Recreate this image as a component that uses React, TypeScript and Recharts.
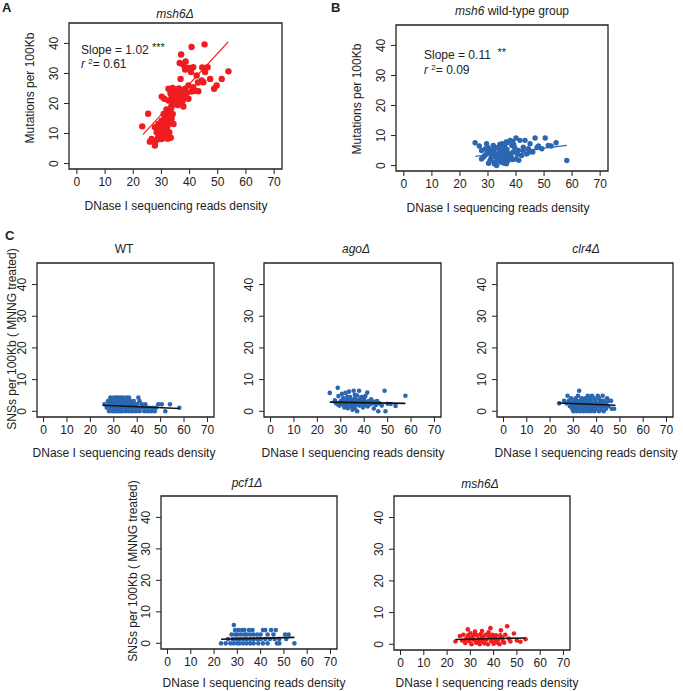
import React from 'react';
import { ScatterChart, Scatter, XAxis, YAxis, ReferenceArea } from 'recharts';

const FONT = '"Liberation Sans", Arial, Helvetica, sans-serif';
const RED = '#f01c1f';
const BLUE = '#2b67b1';
const INK = '#222';

const xTicks = [0, 10, 20, 30, 40, 50, 60, 70];
const yTicks = [0, 10, 20, 30, 40];
const xDomain = [-2.8, 72.8];
const yDomain = [-1.8, 46.8];

// panel A: msh6 delta, mutations per 100Kb
const msh6Points = [
  [23.2, 12.4], [25.3, 16.6], [25.9, 7.3], [26.5, 8.2], [27.7, 7.1], [27.7, 6.0], [27.7, 12.1], [28.3, 10.4],
  [28.9, 13.2], [28.9, 8.8], [29.5, 11.6], [29.8, 9.6], [30.1, 14.3], [30.1, 8.2], [30.1, 22.3], [30.7, 8.8],
  [31.0, 12.9], [31.0, 21.6], [31.3, 15.4], [31.3, 11.0], [31.8, 18.0], [32.5, 17.1], [32.5, 13.2], [32.5, 21.0],
  [32.5, 24.9], [32.8, 10.4], [33.1, 16.0], [33.3, 8.6], [33.6, 14.9], [33.6, 19.3], [33.6, 22.7], [34.3, 13.2],
  [34.3, 21.0], [34.8, 22.7], [35.4, 23.8], [36.0, 22.1], [36.0, 20.4], [36.6, 21.0], [36.6, 23.8], [36.8, 28.2],
  [37.0, 36.3], [37.2, 23.3], [37.8, 32.9], [38.4, 31.3], [38.4, 24.9], [38.6, 34.0], [39.6, 26.0], [39.6, 21.6],
  [40.2, 31.2], [40.7, 38.8], [40.7, 24.0], [41.3, 32.1], [41.3, 25.4], [42.5, 29.3], [43.1, 24.1], [44.3, 27.7],
  [44.9, 27.1], [45.3, 39.7], [46.4, 32.1], [47.3, 28.2], [48.7, 24.9], [49.6, 26.0], [51.4, 28.2], [53.8, 30.7],
  [33.5, 18.5], [34.8, 19.8], [35.2, 20.5], [35.8, 19.5], [34.0, 16.5], [33.0, 15.5], [31.8, 14.0], [30.5, 12.0],
  [29.2, 10.2], [28.5, 8.0], [30.8, 16.5], [31.8, 10.2], [32.0, 12.0], [29.8, 13.5], [35.0, 24.5], [36.2, 25.0],
  [37.5, 20.8], [38.0, 22.0], [39.0, 23.5], [36.5, 33.5], [38.0, 33.0], [39.8, 31.8], [42.0, 24.2], [45.5, 30.5],
  [44.5, 32.0], [43.0, 27.0], [40.5, 30.5], [34.0, 25.2], [33.2, 23.5], [37.8, 19.0], [35.5, 21.8], [32.2, 8.3],
];
const msh6Fit = [[23.5, 9.7], [53.7, 40.5]];

// panel B: msh6 wild-type group
const wtGroupPoints = [
  [25.4, 7.6], [26.9, 6.5], [27.7, 5.0], [58.1, 1.7], [50.4, 9.2], [46.8, 9.2], [54.3, 7.6], [51.5, 6.7],
  [48.0, 6.5], [45.0, 7.3], [43.2, 8.4], [41.4, 8.4], [40.0, 9.2], [37.9, 8.4], [36.5, 7.9], [35.0, 7.3],
  [38.5, 6.7], [42.6, 6.1], [44.4, 5.6], [49.2, 5.6], [40.8, 5.0], [29.5, 7.3], [31.9, 6.7], [33.3, 5.8],
  [30.7, 5.3], [35.5, 5.6], [29.5, 3.9], [31.9, 3.9], [34.2, 3.9], [36.6, 3.9], [39.0, 4.5], [42.0, 3.4],
  [28.3, 2.8], [31.2, 2.8], [33.5, 2.2], [35.9, 2.2], [37.6, 2.8], [32.4, 1.1], [34.7, 1.1], [33.1, 0.0],
  [36.6, 0.6], [30.7, 1.7], [27.7, 2.2], [39.9, 2.2], [43.8, 3.9], [29.0, 5.5], [30.0, 6.0], [30.5, 4.5],
  [31.0, 5.0], [31.5, 3.2], [32.0, 4.6], [32.5, 6.0], [32.8, 3.5], [33.0, 2.6], [33.8, 4.2], [34.0, 6.4],
  [34.5, 3.0], [34.8, 5.0], [35.2, 1.5], [35.5, 4.4], [35.8, 0.8], [36.2, 3.3], [36.8, 5.4], [37.2, 1.7],
  [37.5, 4.0], [38.2, 3.2], [38.8, 2.0], [39.5, 6.0], [40.5, 3.8], [41.0, 1.8], [42.5, 5.0], [30.2, 0.8],
  [31.0, 2.0], [29.8, 4.8], [28.8, 3.3], [32.2, 0.6], [33.6, 1.5], [34.2, 7.0], [36.0, 6.8], [37.0, 7.7],
  [38.8, 8.0], [39.2, 7.0], [44.8, 4.5], [46.0, 4.5], [47.5, 6.0], [52.5, 6.5],
];
const wtGroupFit = [[25.5, 3.1], [58.1, 6.7]];

// panel C: SNSs per 100Kb, MNNG treated (x values listed per level)
const wtRows: [number, number[]][] = [
  [4.3, [28.5, 30, 31, 32, 33, 34, 35.5, 36.5, 40.5]],
  [3.2, [27.5, 29, 30, 31.5, 32.5, 33.5, 34.5, 36, 37, 38.5, 41]],
  [2.2, [26, 28, 29.5, 30.5, 31.5, 33, 34, 35, 36.5, 38, 39, 40, 42, 43.5, 49, 50.5, 54]],
  [1.1, [27, 28.5, 29.5, 30.5, 31.5, 32.5, 33.5, 35, 36, 37.5, 39, 40.5, 42, 43.5, 45, 46.5, 48, 58]],
  [0, [28, 29.5, 30.5, 31.5, 32.5, 33.5, 35, 36.5, 38, 39.5, 41, 43, 44.5, 46, 47.5, 52]],
];
const wtFit = [[25.3, 1.9], [58, 0.9]];

const agoPoints = [
  [25.3, 5.8], [28.7, 7.4], [27.5, 3.5], [28, 2.5], [29, 4.8], [29.5, 1.8], [30, 3.2], [30.5, 5.5],
  [31, 2.2], [31, 4.2], [31.5, 1.2], [32, 3.0], [32, 5.8], [32.5, 2.0], [33, 3.8], [33, 1.0],
  [33.5, 6.2], [34, 2.6], [34, 4.5], [34.5, 1.5], [35, 3.3], [35, 0.5], [35.5, 6.5], [35.5, 2.0],
  [36, 4.0], [36, 1.0], [36.5, 2.8], [37, 5.0], [37, 0.0], [37.5, 3.5], [37.8, 6.5], [38, 1.8],
  [38.5, 4.2], [38.5, 2.5], [39, 3.0], [39.5, 1.2], [40, 3.8], [40, 2.0], [40.5, 4.8], [41, 2.8],
  [41.3, 5.9], [41.5, 1.5], [42, 3.2], [42.5, 2.2], [43, 3.8], [43.5, 2.5], [44.1, 0.9], [44.5, 3.0],
  [45, 2.0], [45.5, 3.2], [46, 0], [46.5, 2.5], [47.5, 1.8], [48.7, 6.5], [49.1, 0], [50, 2.4],
  [51.3, 2.3], [53.4, 1.7], [57.6, 4.9], [30, 2.8], [29, 2.0], [31.5, 3.5], [33.5, 2.5], [36.5, 3.2],
  [38, 3.0], [39, 4.5], [34.5, 3.6], [32.8, 4.6], [36, 5.2], [40.5, 2.6], [35.8, 1.6], [37.2, 2.2],
];
const agoFit = [[25.3, 2.9], [57.6, 2.5]];

const clr4Rows: [number, number[]][] = [
  [6.5, [32.5]],
  [4.9, [27.5, 32, 36.2, 38, 40.5, 42.6]],
  [4.1, [29, 31, 33.5, 35, 37, 39, 41, 44.5]],
  [3.3, [26, 28, 30, 31.5, 33, 34.5, 36, 37.5, 39.5, 41.5, 43, 45, 46.2]],
  [2.5, [23.9, 27, 29, 30.5, 32, 33.5, 35, 36.5, 38, 39.5, 41, 42.5, 44]],
  [1.6, [28.5, 30, 31, 32.5, 34, 35.5, 37, 38.5, 40, 41.5, 43, 45]],
  [0.8, [29.5, 31, 32.5, 34, 35.5, 37, 38.5, 40, 42, 44, 46.5, 47.5]],
  [0, [30, 31.5, 33, 34.5, 36, 37.5, 39, 41, 43]],
];
const clr4Fit = [[23.5, 2.6], [48.1, 1.9]];

const pcf1Rows: [number, number[]][] = [
  [5.8, [28.5]],
  [4.2, [29, 30.5, 32, 33, 35, 36.5, 41, 42, 44.5, 46.5]],
  [2.8, [27.5, 29, 30, 31.5, 33, 34, 35.5, 37, 38.5, 40, 43, 45.5, 50.5, 52]],
  [1.4, [26, 28, 29.5, 31, 32.5, 34, 35.5, 37, 38.5, 40, 42, 44, 46, 48, 51]],
  [0, [23, 25, 27, 28.5, 30, 31, 32.5, 34, 35.5, 37, 39, 41, 43, 47, 48, 54.5]],
];
const pcf1Fit = [[23, 1.3], [54.5, 1.9]];

const msh6MnngPoints = [
  [23.6, 0.9], [25.5, 2.6], [26.5, 1.2], [27, 3.0], [27.8, 0.4], [28.5, 2.0], [28.9, 4.7], [29.5, 1.0],
  [30, 3.5], [30.5, 0], [31, 2.4], [31.5, 1.4], [32, 4.0], [32.5, 0.5], [33, 2.8], [33.5, 1.6],
  [34, 0], [34.5, 3.2], [35, 1.0], [35.5, 2.2], [36, 0.3], [36.5, 3.0], [37, 1.5], [37.5, 0],
  [38, 2.6], [38.6, 5.1], [39, 1.0], [39.5, 3.0], [40, 0.2], [40.5, 1.8], [41, 2.8], [41.5, 0.6],
  [42, 1.5], [42.5, 0], [43.1, 4.4], [43.5, 2.2], [44, 1.0], [45, 3.0], [45.8, 5.7], [46.5, 1.8],
  [47.2, 0.9], [48.7, 3.4], [50, 1.2], [51.5, 0.8], [53.7, 1.6], [29, 2.8], [30.2, 1.8], [31.8, 3.2],
  [33.2, 0.9], [34.8, 2.0], [36.2, 1.2], [37.8, 3.8], [39.2, 2.4], [40.8, 1.0], [42.8, 2.8], [35, 4.2],
  [32.8, 1.0], [28, 1.5], [44.5, 0.5],
];
const msh6MnngFit = [[23.6, 1.5], [53.7, 2.0]];

const toPts = (arr: number[][]) => arr.map(([x, y]) => ({ x, y }));
const fromRows = (rows: [number, number[]][]) =>
  rows.flatMap(([y, xs]) => xs.map((x) => ({ x, y })));

const YTick = (props: any) => {
  const { x, y, payload } = props;
  return (
    <text x={x} y={y} transform={`rotate(-90 ${x} ${y})`} textAnchor="middle"
      fontSize={12} fontFamily={FONT} fill={INK}>
      {payload.value}
    </text>
  );
};

const dot = (r: number, color: string) => (p: any) =>
  <circle cx={p.cx} cy={p.cy} r={r} fill={color} />;

interface PanelProps {
  left: number; top: number; w: number; h: number;
  points: { x: number; y: number }[];
  fit: number[][];
  color: string; fitColor: string; fitWidth: number; r: number;
}

const Panel: React.FC<PanelProps> = ({ left, top, w, h, points, fit, color, fitColor, fitWidth, r }) => {
  const YW = 30, XH = 30;
  return (
    <div style={{ position: 'absolute', left: left - YW, top: top - 1 }}>
      <ScatterChart width={w + YW + 2} height={h + XH + 1} margin={{ top: 1, right: 2, bottom: 0, left: 0 }}>
        <XAxis type="number" dataKey="x" domain={xDomain} ticks={xTicks} interval={0} height={XH}
          allowDataOverflow axisLine={false} tickSize={5} tickMargin={3}
          tickLine={{ stroke: INK }} tick={{ fill: INK, fontSize: 12, fontFamily: FONT }} />
        <YAxis type="number" dataKey="y" domain={yDomain} ticks={yTicks} interval={0} width={YW}
          allowDataOverflow axisLine={false} tickSize={5} tickMargin={6}
          tickLine={{ stroke: INK }} tick={<YTick />} />
        <ReferenceArea x1={xDomain[0]} x2={xDomain[1]} y1={yDomain[0]} y2={yDomain[1]}
          fill="none" fillOpacity={0} stroke={INK} strokeWidth={1.3} ifOverflow="visible" />
        <Scatter data={points} fill={color} shape={dot(r, color)} isAnimationActive={false} />
        <Scatter data={toPts(fit)} line={{ stroke: fitColor, strokeWidth: fitWidth }}
          shape={() => <g />} isAnimationActive={false} />
      </ScatterChart>
    </div>
  );
};

const Txt: React.FC<{ x: number; y: number; rot?: boolean; italic?: boolean; children: React.ReactNode }> =
  ({ x, y, rot, italic, children }) => (
    <div style={{
      position: 'absolute', left: x, top: y, whiteSpace: 'nowrap', fontSize: 12, lineHeight: '14px',
      fontStyle: italic ? 'italic' : 'normal', color: INK,
      transform: `translate(-50%, -50%)${rot ? ' rotate(-90deg)' : ''}`,
    }}>{children}</div>
  );

const Label: React.FC<{ x: number; y: number; children: React.ReactNode }> = ({ x, y, children }) => (
  <div style={{ position: 'absolute', left: x, top: y, fontSize: 13, fontWeight: 'bold', lineHeight: '14px', color: INK }}>
    {children}
  </div>
);

const sup: React.CSSProperties = { fontSize: 8, position: 'relative', top: -4 };
const stars: React.CSSProperties = { fontSize: 11, position: 'relative', top: -3 };
const XLAB = 'DNase I sequencing reads density';
const YLAB_AB = 'Mutations per 100Kb';
const YLAB_C = 'SNSs per 100Kb ( MNNG treated)';

export default function App() {
  return (
    <div style={{ position: 'absolute', left: 0, top: 0, width: 683, height: 691, background: '#fff', fontFamily: FONT, overflow: 'hidden' }}>
      <Label x={2} y={1}>A</Label>
      <Label x={331} y={1}>B</Label>
      <Label x={5} y={229}>C</Label>

      {/* A */}
      <Panel left={69} top={23} w={213} h={146} points={toPts(msh6Points)} fit={msh6Fit}
        color={RED} fitColor={RED} fitWidth={1.2} r={3.2} />
      <Txt x={175} y={14} italic>msh6Δ</Txt>
      <Txt x={30} y={88} rot>{YLAB_AB}</Txt>
      <Txt x={176} y={206}>{XLAB}</Txt>
      <div style={{ position: 'absolute', left: 81, top: 43, fontSize: 12, lineHeight: '14px', color: INK, whiteSpace: 'nowrap' }}>
        Slope = 1.02 <span style={stars}>***</span><br />
        <i>r</i> <span style={sup}>2</span>= 0.61
      </div>

      {/* B */}
      <Panel left={396} top={25} w={212} h={146} points={toPts(wtGroupPoints)} fit={wtGroupFit}
        color={BLUE} fitColor={BLUE} fitWidth={1.2} r={2.7} />
      <Txt x={512} y={11}><i>msh6</i> wild-type group</Txt>
      <Txt x={357} y={99} rot>{YLAB_AB}</Txt>
      <Txt x={498} y={208}>{XLAB}</Txt>
      <div style={{ position: 'absolute', left: 424, top: 48, fontSize: 12, lineHeight: '15px', color: INK, whiteSpace: 'nowrap' }}>
        Slope = 0.11 &nbsp;<span style={stars}>**</span><br />
        <i>r</i> <span style={sup}>2</span>= 0.09
      </div>

      {/* C row 1 */}
      <Panel left={36.5} top={262.5} w={177} h={154} points={fromRows(wtRows)} fit={wtFit}
        color={BLUE} fitColor="#111" fitWidth={1.6} r={2.3} />
      <Txt x={124} y={249}>WT</Txt>
      <Txt x={124} y={453}>{XLAB}</Txt>
      <Txt x={12} y={339} rot>{YLAB_C}</Txt>

      <Panel left={263.5} top={262.5} w={177} h={154} points={toPts(agoPoints)} fit={agoFit}
        color={BLUE} fitColor="#111" fitWidth={1.6} r={2.3} />
      <Txt x={356} y={249} italic>agoΔ</Txt>
      <Txt x={353} y={453}>{XLAB}</Txt>

      <Panel left={496.5} top={262.5} w={176} h={154} points={fromRows(clr4Rows)} fit={clr4Fit}
        color={BLUE} fitColor="#111" fitWidth={1.6} r={2.3} />
      <Txt x={586} y={249} italic>clr4Δ</Txt>
      <Txt x={586} y={453}>{XLAB}</Txt>

      {/* C row 2 */}
      <Panel left={160.5} top={495.5} w={176} h={153} points={fromRows(pcf1Rows)} fit={pcf1Fit}
        color={BLUE} fitColor="#111" fitWidth={1.6} r={2.3} />
      <Txt x={247} y={483} italic>pcf1Δ</Txt>
      <Txt x={254} y={683}>{XLAB}</Txt>
      <Txt x={133} y={571} rot>{YLAB_C}</Txt>

      <Panel left={393.5} top={495.5} w={176} h={154} points={toPts(msh6MnngPoints)} fit={msh6MnngFit}
        color={RED} fitColor="#111" fitWidth={1.6} r={2.3} />
      <Txt x={480} y={484} italic>msh6Δ</Txt>
      <Txt x={487} y={683}>{XLAB}</Txt>
    </div>
  );
}
